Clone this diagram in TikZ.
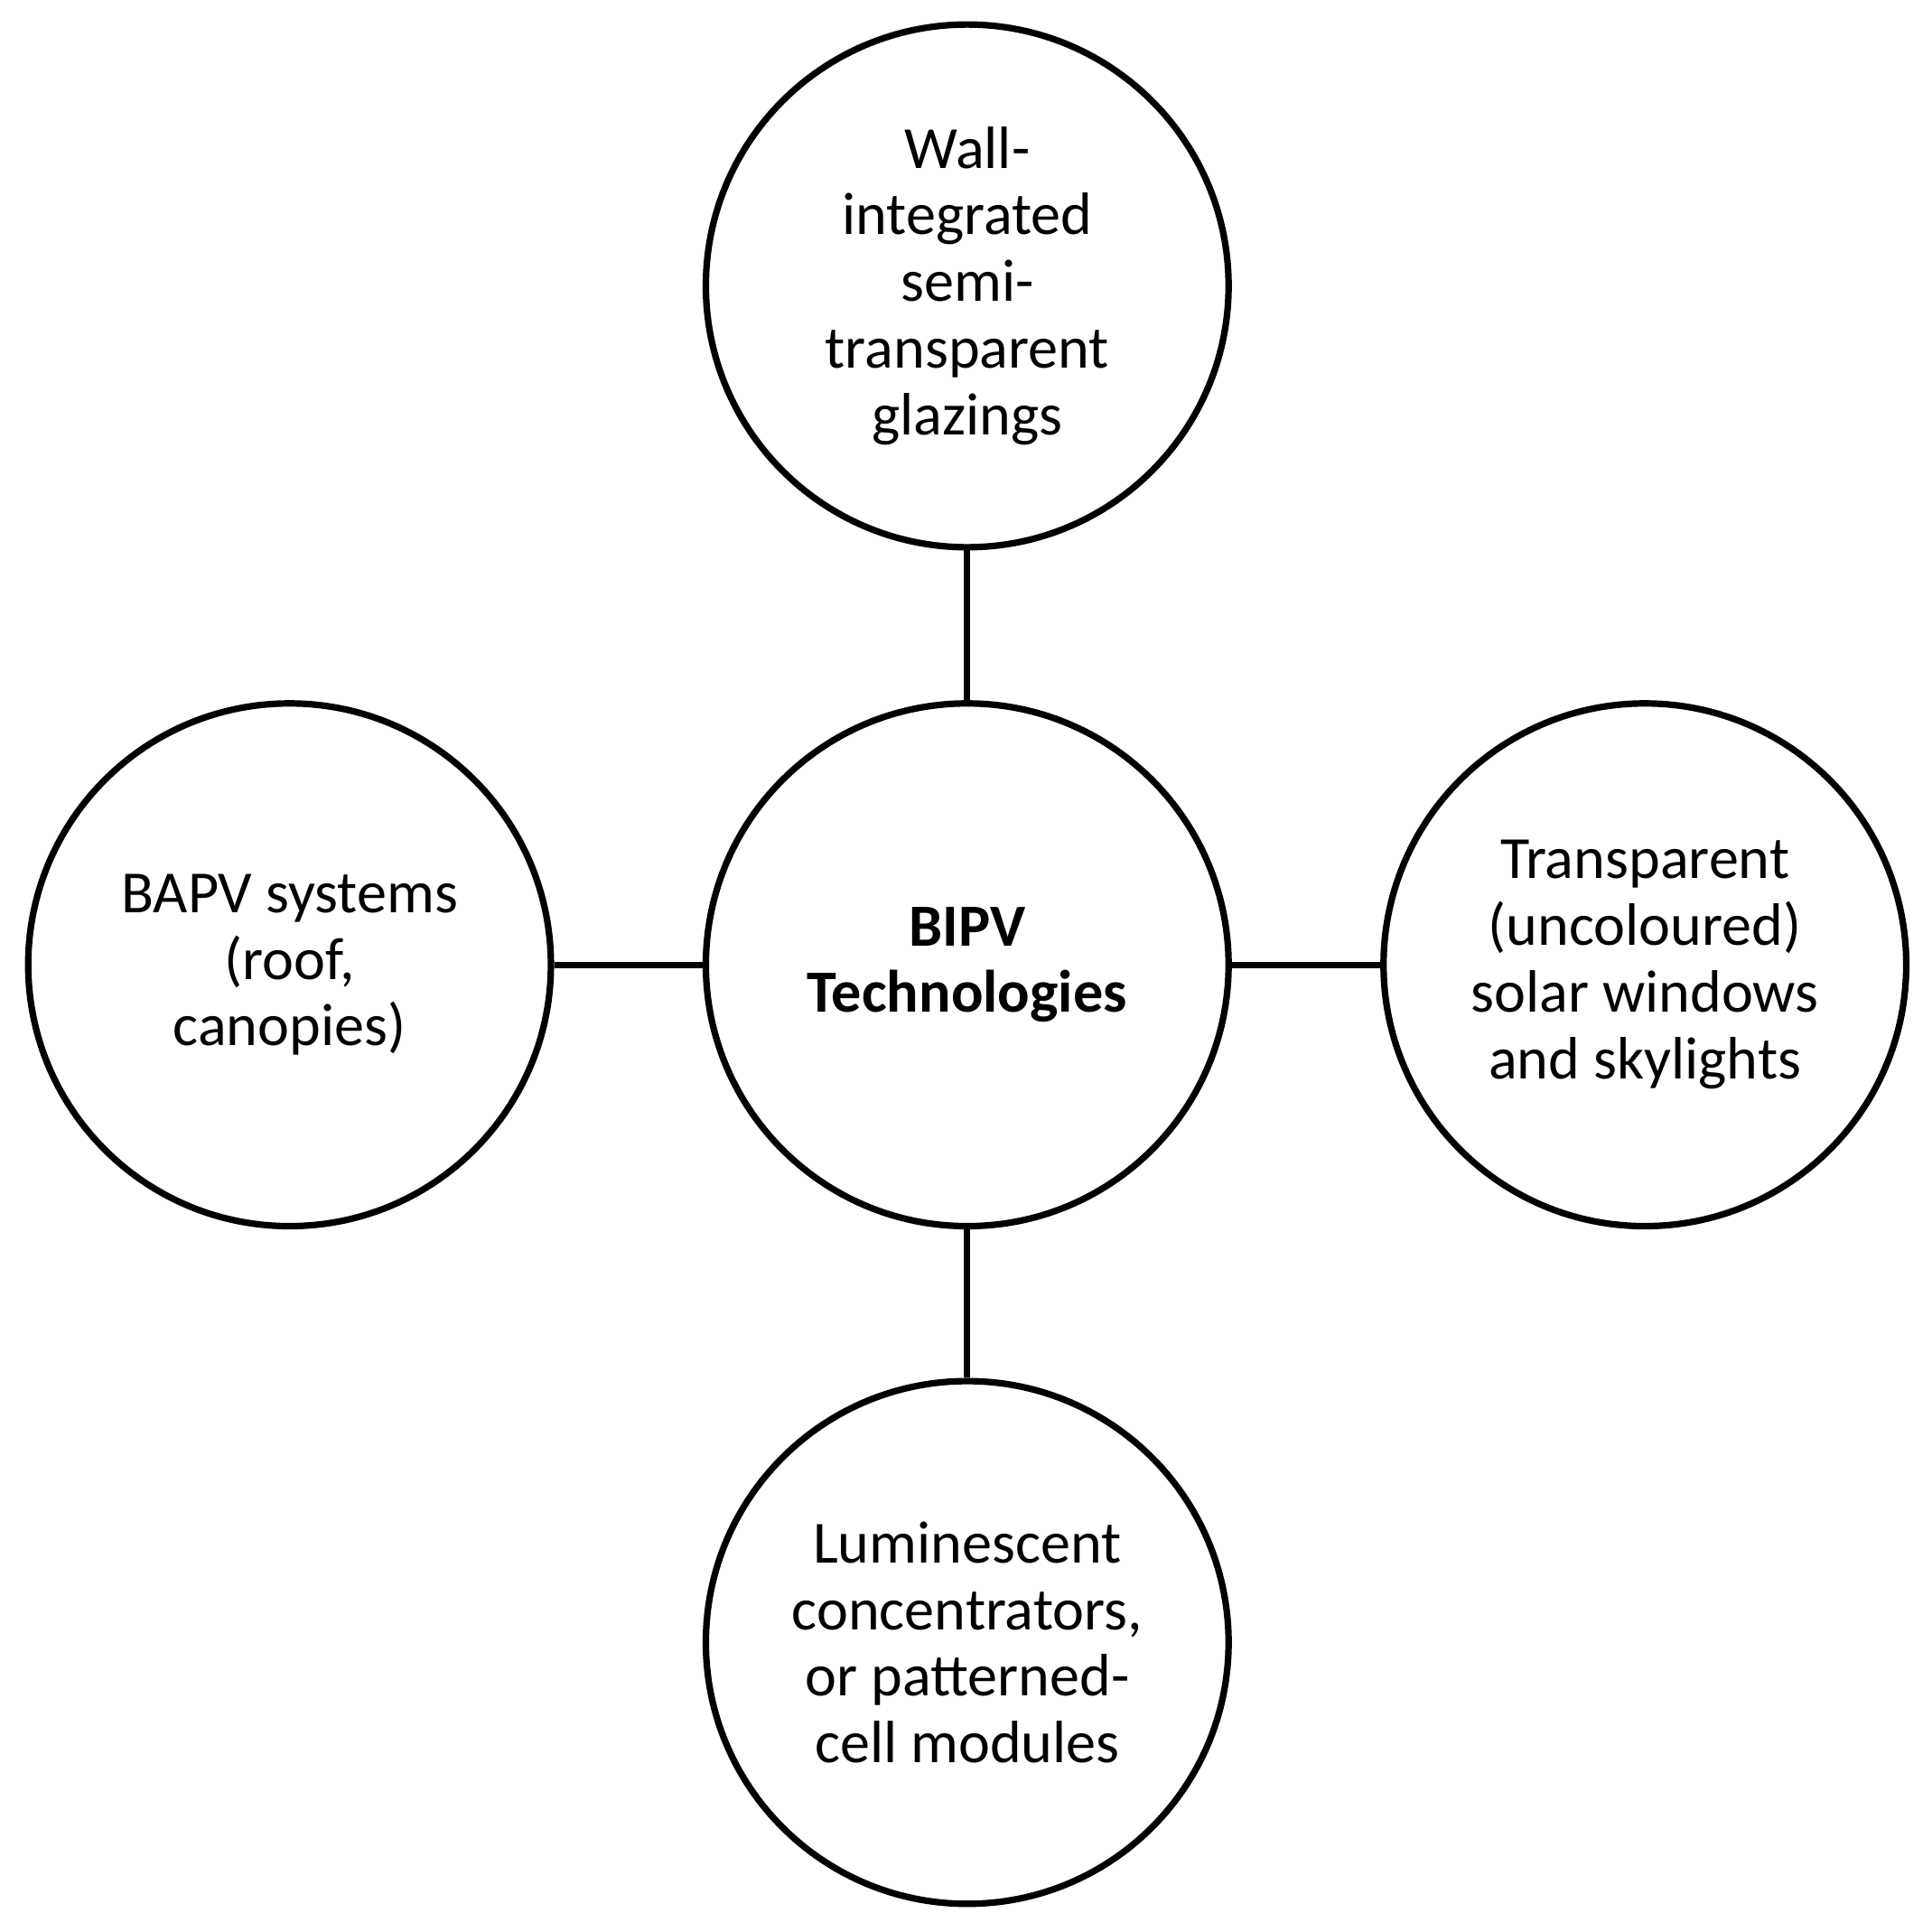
\documentclass[tikz,border=0pt]{standalone}
\usepackage{fontspec}
\setmainfont{Carlito}
\begin{document}
\begin{tikzpicture}[x=0.01cm,y=-0.01cm,
  c/.style={circle,draw,line width=1.5pt,minimum size=4.24cm,inner sep=0pt,align=center,
    font=\fontsize{13.8pt}{15.4pt}\selectfont},
  l/.style={line width=1.5pt}]
\useasboundingbox (0,0) rectangle (1568,1568);
\node[c,font=\fontsize{13.8pt}{15.4pt}\selectfont\bfseries] (m) at (785,783) {BIPV\\Technologies};
\node[c] (t) at (785,232) {Wall-\\integrated\\semi-\\transparent\\glazings};
\node[c] (l) at (235,783) {BAPV systems\\(roof,\\canopies)};
\node[c] (r) at (1335,783) {Transparent\\(uncoloured)\\solar windows\\and skylights};
\node[c] (b) at (785,1333) {Luminescent\\concentrators,\\or patterned-\\cell modules};
\draw[l] (m) -- (t);
\draw[l] (m) -- (l);
\draw[l] (m) -- (r);
\draw[l] (m) -- (b);
\end{tikzpicture}
\end{document}
